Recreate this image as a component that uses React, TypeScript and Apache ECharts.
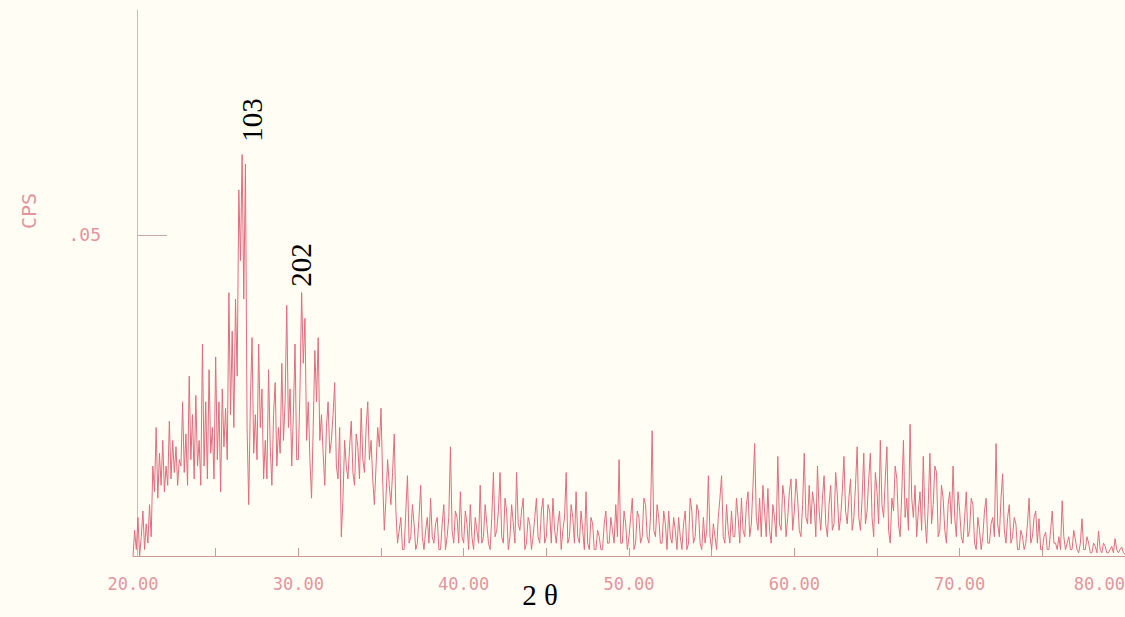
import React, { useEffect, useRef } from "react";
import * as echarts from "echarts";

// XRD scan: 2θ from 20.0° to 80.0°, step 0.1°; intensities in 10^-3 CPS
const scanStart = 20;
const scanStep = 0.1;

const scan20to24 = [
  0, 4, 1, 6, 0, 3, 7, 1, 5, 2,
  8, 3, 14, 10, 20, 9, 16, 11, 18, 10,
  14, 11, 21, 12, 18, 13, 17, 11, 15, 14,
  24, 13, 19, 11, 28, 15, 22, 12, 25, 14,
];
const scan24to28 = [
  18, 11, 33, 14, 24, 12, 29, 16, 20, 12,
  31, 15, 24, 10, 26, 17, 23, 15, 41, 22,
  35, 20, 40, 28, 57, 46, 62.5, 40, 61, 20,
  8, 24, 34, 16, 22, 15, 33, 20, 26, 12,
];
const scan28to32 = [
  18, 12, 29, 17, 11, 22, 27, 14, 20, 16,
  30, 18, 24, 39, 20, 26, 14, 22, 33, 15,
  15, 26, 41, 30, 37, 18, 24, 15, 9, 20,
  32, 24, 34, 18, 22, 16, 11, 20, 24, 16,
];
const scan32to36 = [
  18, 22, 27, 14, 12, 20, 3, 9, 18, 14,
  12, 17, 21, 13, 11, 19, 17, 12, 23, 15,
  13, 20, 24, 15, 18, 12, 8, 14, 20, 17,
  23, 12, 4, 9, 15, 11, 8, 13, 19, 7,
];
const scan36to40 = [
  2, 4, 6, 1, 1, 7, 12.5, 2, 3, 8,
  5, 1, 2, 6, 11, 3, 1, 4, 6, 2,
  9, 3, 2, 5, 6, 1, 1, 5, 8, 1,
  3, 6, 17, 4, 2, 7, 6, 2, 10, 3,
];
const scan40to44 = [
  2, 7, 5, 1, 8, 3, 1, 6, 4, 2,
  11, 2, 3, 8, 5, 2, 1, 6, 13, 3,
  4, 7, 13, 3, 2, 9, 7, 1, 3, 8,
  5, 2, 13, 5, 4, 7, 9, 1, 2, 6,
];
const scan44to48 = [
  5, 1, 3, 6, 9, 3, 2, 7, 9, 2,
  3, 8, 7, 2, 9, 4, 2, 5, 7, 1,
  4, 6, 13, 2, 3, 8, 6, 2, 10, 3,
  2, 7, 4, 1, 10, 2, 1, 6, 5, 1,
];
const scan48to52 = [
  1, 4, 3, 1, 1, 5, 7, 2, 2, 6,
  4, 2, 8, 3, 15, 2, 2, 7, 5, 1,
  3, 6, 9, 1, 2, 7, 6, 2, 3, 9,
  8, 3, 2, 6, 19.5, 4, 3, 8, 6, 2,
];
const scan52to56 = [
  2, 7, 5, 1, 7, 3, 2, 6, 4, 1,
  6, 3, 1, 5, 7, 1, 2, 9, 7, 2,
  3, 8, 7, 2, 1, 6, 2, 4, 12.5, 3,
  1, 5, 3, 1, 6, 9, 12.5, 3, 2, 8,
];
const scan56to60 = [
  4, 2, 7, 3, 3, 9, 6, 2, 9, 4,
  3, 8, 10, 3, 5, 11, 17.5, 6, 4, 9,
  3, 11, 7, 3, 10.5, 4, 2, 8, 6, 3,
  15.5, 5, 4, 11, 9, 3, 6, 10, 12, 4,
];
const scan60to64 = [
  7, 12, 9, 4, 3, 8, 16, 6, 5, 11,
  5, 10, 8, 3, 14, 7, 4, 9, 12.5, 5,
  3, 8, 11, 4, 5, 13, 9.5, 4, 6, 10,
  15.5, 7, 5, 9, 12, 4, 6, 11, 17, 6,
];
const scan64to68 = [
  4, 9, 16, 5, 7, 12, 16, 6, 3, 13,
  10, 5, 18, 8, 6, 12, 17, 4, 2, 9,
  7, 14, 12, 5, 3, 10, 18, 6, 9, 4,
  20.5, 9, 6, 11, 3, 7, 10, 4, 15.5, 6,
];
const scan68to72 = [
  2, 8, 16, 5, 8, 14, 13, 3, 4, 11,
  9, 4, 2, 8, 10, 5, 14, 6, 3, 10,
  7, 3, 2, 6, 10, 3, 4, 9, 8, 2,
  1, 6, 4, 1, 3, 7, 9, 2, 2, 5,
];
const scan72to76 = [
  6, 3, 17.5, 5, 3, 9, 12.8, 4, 2, 6,
  8, 2, 3, 6, 5, 1, 1, 4, 3, 1,
  2, 5, 9, 2, 3, 6, 7, 2, 5.8, 1,
  1, 3, 3.7, 1, 1, 4, 7, 2, 2, 1,
];
const scan76to80 = [
  3, 1, 8.6, 3, 1, 2, 3, 1, 1, 4,
  2.5, 1, 0.5, 2, 5.8, 1, 1, 3, 2, 0.5,
  0.5, 2, 1.5, 0.5, 3.9, 1, 0.5, 2, 1.5, 0.5,
  0.5, 1, 1.5, 0.5, 2.7, 1, 0.5, 1, 1.4, 0.5,
  0.3,
];

const xLabelValues = [20, 30, 40, 50, 60, 70, 80];
const xTickValues = [25, 30, 35, 40, 45, 50, 55, 60, 65, 70, 75];
const yLabelValues = [50];

const peakLabels = [
  { text: "103", x: 252, y: 120 },
  { text: "202", x: 301, y: 265 },
];

export default function App() {
  const ref = useRef<HTMLDivElement>(null);

  useEffect(() => {
    if (!ref.current) return;
    const chart = echarts.init(ref.current, null, { renderer: "svg" });
    const intensities = [
      ...scan20to24,
      ...scan24to28,
      ...scan28to32,
      ...scan32to36,
      ...scan36to40,
      ...scan40to44,
      ...scan44to48,
      ...scan48to52,
      ...scan52to56,
      ...scan56to60,
      ...scan60to64,
      ...scan64to68,
      ...scan68to72,
      ...scan72to76,
      ...scan76to80,
    ];
    const data = intensities.map((v, i) => [
      +(scanStart + scanStep * i).toFixed(2),
      v,
    ]);
    const pink = "#e3959e";
    const mono = "'DejaVu Sans Mono', monospace";

    chart.setOption({
      animation: false,
      backgroundColor: "#fffdf4",
      grid: { left: 133, right: 0, top: 10, bottom: 61, outerBoundsMode: "none", containLabel: false },
      xAxis: {
        type: "value",
        min: 20,
        max: 80,
        interval: 5,
        axisLine: { show: true, lineStyle: { color: "#cf9898", width: 1 } },
        axisTick: {
          show: true,
          inside: true,
          length: 8,
          customValues: xTickValues,
          lineStyle: { color: "#cf9898" },
        },
        axisLabel: {
          customValues: xLabelValues,
          formatter: (v: number) => v.toFixed(2),
          color: pink,
          fontFamily: mono,
          fontSize: 17,
          margin: 19,
          alignMaxLabel: "right",
        },
        splitLine: { show: false },
      },
      yAxis: {
        type: "value",
        min: 0,
        max: 85,
        offset: -4,
        axisLine: { show: true, lineStyle: { color: "#c9bdb5", width: 1 } },
        axisTick: {
          show: true,
          inside: true,
          length: 30,
          customValues: yLabelValues,
          lineStyle: { color: "#c9a9a5" },
        },
        axisLabel: {
          customValues: yLabelValues,
          formatter: (v: number) => (v / 1000).toFixed(2).replace(/^0/, ""),
          color: pink,
          fontFamily: mono,
          fontSize: 18,
          margin: 36,
        },
        splitLine: { show: false },
      },
      series: [
        {
          type: "line",
          data,
          showSymbol: false,
          silent: true,
          lineStyle: { color: "#e06d7d", width: 1 },
        },
      ],
      graphic: [
        {
          type: "text",
          x: 29,
          y: 211,
          rotation: Math.PI / 2,
          style: {
            text: "CPS",
            fill: pink,
            font: `20px ${mono}`,
            align: "center",
            verticalAlign: "middle",
          },
        },
        ...peakLabels.map((p) => ({
          type: "text",
          x: p.x,
          y: p.y,
          rotation: Math.PI / 2,
          style: {
            text: p.text,
            fill: "#000",
            font: "29px 'Liberation Serif', serif",
            align: "center",
            verticalAlign: "middle",
          },
        })),
        {
          type: "text",
          x: 540,
          y: 595,
          style: {
            text: "2 θ",
            fill: "#000",
            font: "29px 'Liberation Serif', serif",
            align: "center",
            verticalAlign: "middle",
          },
        },
      ],
    });
    return () => chart.dispose();
  }, []);

  return (
    <div
      ref={ref}
      style={{
        position: "fixed",
        left: 0,
        top: 0,
        width: 1125,
        height: 617,
        background: "#fffdf4",
      }}
    />
  );
}
